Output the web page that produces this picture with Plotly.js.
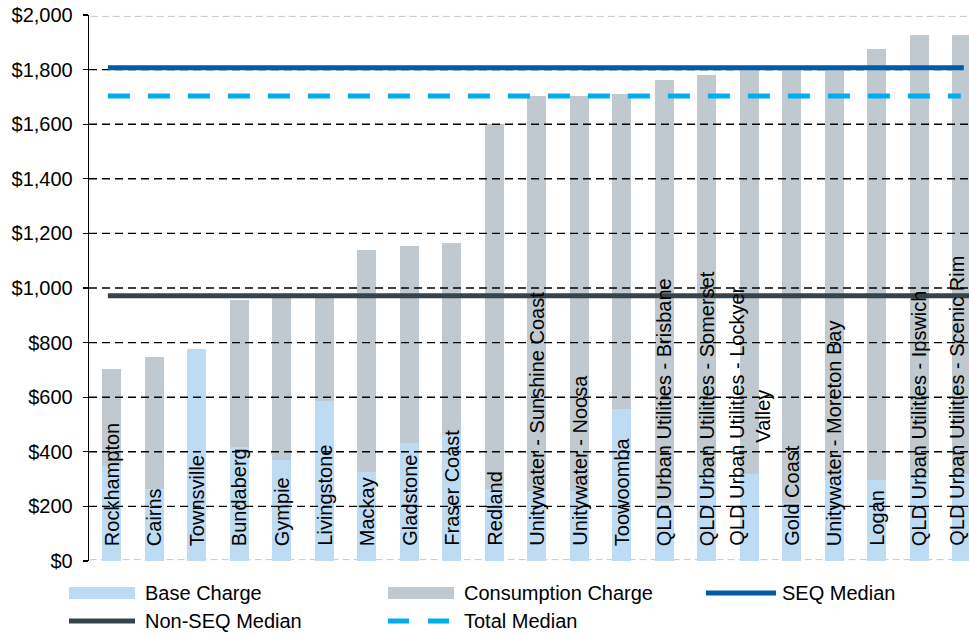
<!DOCTYPE html>
<html>
<head>
<meta charset="utf-8">
<script src="https://cdn.plot.ly/plotly-3.0.1.min.js"></script>
<style>html,body{margin:0;padding:0;background:#fff;}#chart{width:969px;height:634px;}</style>
</head>
<body>
<div id="chart"></div>
<script>
// ---- data ----
const categories = [
  "Rockhampton", "Cairns", "Townsville", "Bundaberg", "Gympie", "Livingstone",
  "Mackay", "Gladstone", "Fraser Coast", "Redland", "Unitywater - Sunshine Coast",
  "Unitywater - Noosa", "Toowoomba", "QLD Urban Utilities - Brisbane",
  "QLD Urban Utilities - Somerset", "QLD Urban Utilities - Lockyer<br>Valley",
  "Gold Coast", "Unitywater - Moreton Bay", "Logan",
  "QLD Urban Utilities - Ipswich", "QLD Urban Utilities - Scenic Rim"
];
const baseCharge = [348, 265, 776, 419, 369, 586, 327, 432, 460, 265, 256, 256, 557, 214, 319, 319, 212, 311, 298, 319, 319];
const consumptionCharge = [355, 482, 0, 537, 593, 376, 812, 721, 706, 1337, 1449, 1449, 1154, 1547, 1463, 1486, 1593, 1494, 1577, 1608, 1608];
const seqMedian = 1807;
const nonSeqMedian = 972;
const totalMedian = 1703;
const yTicks = [0, 200, 400, 600, 800, 1000, 1200, 1400, 1600, 1800, 2000];
const yTickLabels = ["$0", "$200", "$400", "$600", "$800", "$1,000", "$1,200", "$1,400", "$1,600", "$1,800", "$2,000"];

// ---- layout constants ----
const W = 969, H = 634, ML = 89, MR = 0, MT = 15, MB = 73;
const PW = W - ML - MR, PH = H - MT - MB;
const px = x => (x - ML) / PW;
const py = y => (H - MB - y) / PH;
const FONT = "Liberation Sans, Arial, sans-serif";

const colors = {
  base: "#BDDBF3",
  cons: "#BFC9CF",
  seq: "#005BAA",
  nonseq: "#36434B",
  total: "#00AEEF"
};

const idx = categories.map((_, i) => i);
const lineSpan = [-0.09, 20.05];
const nonSeqSpan = [-0.09, 20.4];
const totalSpan = [-0.09, 19.98];

const traces = [
  { type: "bar", name: "Base Charge", x: idx, y: baseCharge, width: 0.44,
    marker: { color: colors.base, line: { width: 0 } }, showlegend: false, hoverinfo: "y" },
  { type: "bar", name: "Consumption Charge", x: idx, y: consumptionCharge, width: 0.44,
    marker: { color: colors.cons, line: { width: 0 } }, showlegend: false, hoverinfo: "y" },
  { type: "scatter", mode: "lines", name: "Non-SEQ Median", x: nonSeqSpan, y: [nonSeqMedian, nonSeqMedian],
    line: { color: colors.nonseq, width: 5 }, showlegend: false },
  { type: "scatter", mode: "lines", name: "SEQ Median", x: lineSpan, y: [seqMedian, seqMedian],
    line: { color: colors.seq, width: 5 }, showlegend: false },
  { type: "scatter", mode: "lines", name: "Total Median", x: totalSpan, y: [totalMedian, totalMedian],
    line: { color: colors.total, width: 5, dash: "22px,18px" }, showlegend: false }
];

const medians = [seqMedian, nonSeqMedian, totalMedian];
const shapes = [];
// gridlines (dashed black), drawn above bars unless a median line covers them
yTicks.filter(v => v > 0 && v < 2000).forEach(v => {
  const covered = medians.some(m => Math.abs(m - v) < 15);
  shapes.push({ type: "line", xref: "paper", x0: 0, x1: 1, yref: "y", y0: v, y1: v,
    line: { color: "#000", width: 1.4, dash: "8px,5px" }, layer: covered ? "below" : "above" });
});
// light double dashed borders at 0 and 2000
[0, 2000].forEach(v => {
  shapes.push({ type: "rect", xref: "paper", x0: 0.002, x1: 1.01, yref: "y", ysizemode: "pixel",
    yanchor: v, y0: -1.4, y1: 1.4, line: { color: "#C8C8C8", width: 1, dash: "7px,4px" },
    fillcolor: "rgba(0,0,0,0)", layer: "below" });
});

// custom legend
const legendItems = [
  { label: "Base Charge", kind: "rect", color: colors.base, x: 69, y: 593 },
  { label: "Consumption Charge", kind: "rect", color: colors.cons, x: 388, y: 593 },
  { label: "SEQ Median", kind: "line", color: colors.seq, x: 706, y: 593 },
  { label: "Non-SEQ Median", kind: "line", color: colors.nonseq, x: 69, y: 621 },
  { label: "Total Median", kind: "dash", color: colors.total, x: 388, y: 621 }
];
const annotations = [];
legendItems.forEach(it => {
  const len = it.kind === "line" && it.x === 706 ? 70 : 66;
  if (it.kind === "rect") {
    shapes.push({ type: "rect", xref: "paper", yref: "paper", x0: px(it.x), x1: px(it.x + len),
      y0: py(it.y + 6), y1: py(it.y - 6), fillcolor: it.color, line: { width: 0 } });
  } else {
    shapes.push({ type: "line", xref: "paper", yref: "paper", x0: px(it.x), x1: px(it.x + (it.kind === "dash" ? 62 : len)),
      y0: py(it.y), y1: py(it.y),
      line: { color: it.color, width: 5, dash: it.kind === "dash" ? "21px,19px" : "solid" } });
  }
  annotations.push({ xref: "paper", yref: "paper", x: px(it.x + len + 8 - (it.x === 706 ? 4 : 0)), y: py(it.y),
    xanchor: "left", yanchor: "middle", showarrow: false, text: it.label,
    font: { family: FONT, size: 20, color: "#000" } });
});

// category labels written vertically inside the bars
categories.forEach((c, i) => {
  annotations.push({ xref: "x", yref: "y", x: i, y: 0, xanchor: "center", yanchor: "bottom",
    yshift: 13, xshift: i === categories.length - 1 ? -5 : 0, textangle: -90, showarrow: false,
    text: c, align: "center", font: { family: FONT, size: 20, color: "#000" } });
});

const layout = {
  width: W, height: H,
  margin: { l: ML, r: MR, t: MT, b: MB, pad: 0 },
  paper_bgcolor: "#fff", plot_bgcolor: "#fff",
  barmode: "stack",
  showlegend: false,
  font: { family: FONT, size: 20, color: "#000" },
  xaxis: { range: [-0.534, 20.172], showticklabels: false, showgrid: false, zeroline: false,
    showline: false, ticks: "", fixedrange: true },
  yaxis: { range: [0, 2000], tickmode: "array", tickvals: yTicks, ticktext: yTickLabels,
    showgrid: false, zeroline: false, showline: true, linecolor: "#000", linewidth: 1.3,
    ticks: "outside", ticklen: 5, tickcolor: "#000", tickwidth: 1.3,
    tickfont: { family: FONT, size: 20, color: "#000" }, ticklabelstandoff: 6, fixedrange: true },
  shapes: shapes,
  annotations: annotations
};

Plotly.newPlot("chart", traces, layout, { displayModeBar: false, staticPlot: true });
</script>
</body>
</html>
